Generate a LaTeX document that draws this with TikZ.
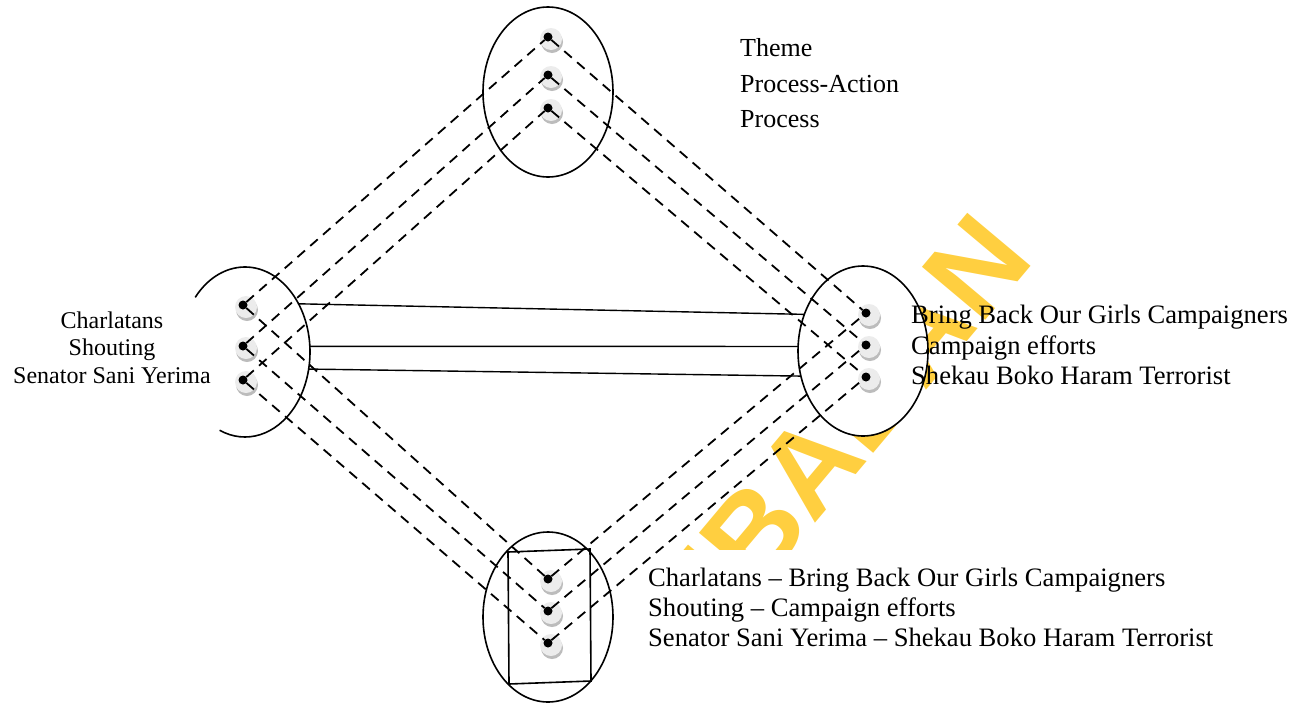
\documentclass[tikz,border=0pt]{standalone}
\usepackage{fontspec}
\setmainfont{Liberation Serif}
\newfontfamily\stampfont{Liberation Sans}
\usetikzlibrary{shapes.geometric}

\pgfdeclarelayer{stamp}
\pgfdeclarelayer{plates}
\pgfdeclarelayer{beads}
\pgfsetlayers{stamp,plates,beads,main}

\definecolor{stampyellow}{RGB}{255,207,64}
\definecolor{beadface}{RGB}{236,236,236}
\definecolor{beadshade}{RGB}{188,188,188}

\begin{document}
\begin{tikzpicture}[x=1pt,y=1pt,
  cluster/.style={ellipse, draw=black, line width=1.6pt, fill=white,
    minimum width=130pt, minimum height=170pt, inner sep=0pt, outer sep=0pt},
  knob/.style={circle, fill=black, minimum size=9pt, inner sep=0pt, outer sep=0pt},
  dashlink/.style={line width=1.8pt, dash pattern=on 10pt off 7pt},
  bar/.style={line width=1.4pt},
  txt/.style={inner sep=0pt, anchor=base west},
  bigtxt/.style={txt, font=\fontsize{26.6}{30}\selectfont},
  toptxt/.style={txt, font=\fontsize{26}{30}\selectfont},
  lefttxt/.style={inner sep=0pt, anchor=base, font=\fontsize{24}{28}\selectfont},
  pad/.style={fill=white, draw=none, inner sep=0pt, outer sep=0pt, anchor=north west}]

\useasboundingbox (0,0) rectangle (1296,-702);

% watermark stamp behind everything
\begin{pgfonlayer}{stamp}
  \node[rotate=50, anchor=base east, inner sep=0pt, text=stampyellow,
        font={\stampfont\bfseries\fontsize{120}{124}\selectfont}] (stamp)
        at (1036,-260) {IBADAN};
\end{pgfonlayer}

% ellipses and the white text pad
\begin{pgfonlayer}{plates}
  \node[cluster] (top) at (548,-92) {};
  \node[cluster] (rgt) at (863,-351) {};
  \node[cluster] (bot) at (548,-617) {};
  \node[cluster, draw=none, fill=none] (lft) at (245,-352) {};
  \node[pad, minimum width=620pt, minimum height=152pt] (pad) at (628,-550) {};
\end{pgfonlayer}

% open arc of the left ellipse
\draw[line width=1.6pt] ([shift={(140:65 and 85)}]lft.center)
  arc[start angle=140, end angle=-113, x radius=65, y radius=85];

% frame inside the bottom ellipse
\draw[line width=1.6pt] (508,-552) -- (590,-549) -- (591,-681) -- (509,-684) -- cycle;

% item knobs
\node[knob] (t1) at (548,-37) {};
\node[knob] (t2) at (548,-75) {};
\node[knob] (t3) at (548,-108) {};
\node[knob] (l1) at (243,-305) {};
\node[knob] (l2) at (243,-346) {};
\node[knob] (l3) at (243,-380) {};
\node[knob] (r1) at (866,-313) {};
\node[knob] (r2) at (866,-345) {};
\node[knob] (r3) at (866,-377) {};
\node[knob] (b1) at (548,-579) {};
\node[knob] (b2) at (548,-611) {};
\node[knob] (b3) at (548,-643) {};

% bead discs under the knobs
\begin{pgfonlayer}{beads}
  \foreach \k in {t1,t2,t3,l1,l2,l3,r1,r2,r3,b1,b2,b3} {
    \fill[beadshade] ([shift={(4,-5)}]\k.center) circle (11);
    \fill[beadface] ([shift={(3,-2)}]\k.center) circle (11);
  }
\end{pgfonlayer}

% dashed links between matching items
\foreach \i in {1,2,3} {
  \draw[dashlink] (l\i) -- (t\i);
  \draw[dashlink] (t\i) -- (r\i);
  \draw[dashlink] (l\i) -- (b\i);
  \draw[dashlink] (b\i) -- (r\i);
}

% solid ties between left and right groups
\draw[bar] (lft.42) -- (rgt.148);
\draw[bar] (lft.5) -- (rgt.176);
\draw[bar] (lft.-15) -- (rgt.202);

% texts
\node[toptxt] (theme) at (740,-56) {Theme};
\node[toptxt] (procact) at (740,-92) {Process-Action};
\node[toptxt] (proc) at (740,-127) {Process};

\node[lefttxt] (charl) at (112,-328) {Charlatans};
\node[lefttxt] (shout) at (112,-355) {Shouting};
\node[lefttxt] (senat) at (112,-383) {Senator Sani Yerima};

\node[bigtxt] (bring) at (911,-323) {Bring Back Our Girls Campaigners};
\node[bigtxt] (effort) at (911,-354) {Campaign efforts};
\node[bigtxt] (shekau) at (911,-384) {Shekau Boko Haram Terrorist};

\node[bigtxt] (pair1) at (648,-586) {Charlatans – Bring Back Our Girls Campaigners};
\node[bigtxt] (pair2) at (648,-616) {Shouting – Campaign efforts};
\node[bigtxt] (pair3) at (648,-646) {Senator Sani Yerima – Shekau Boko Haram Terrorist};

\end{tikzpicture}
\end{document}
